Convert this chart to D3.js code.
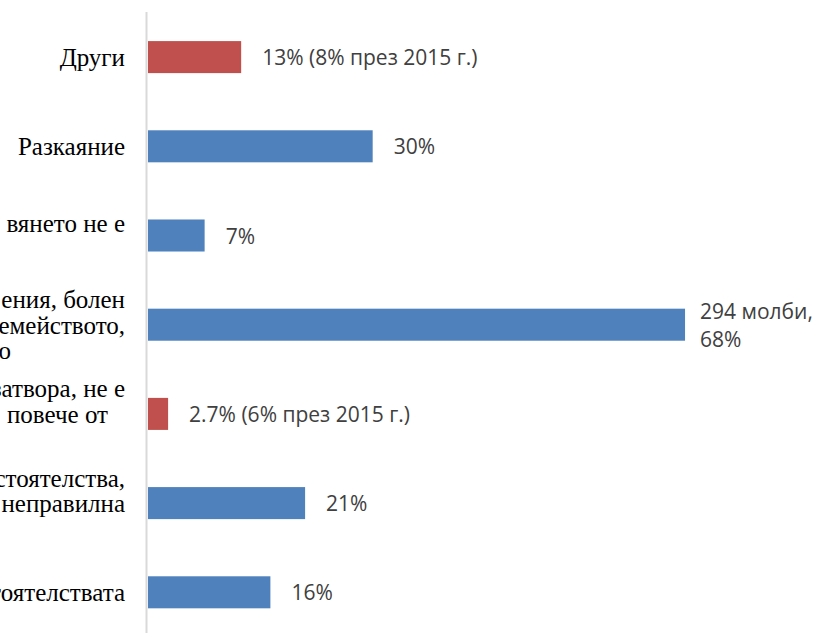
<!DOCTYPE html>
<html>
<head>
<meta charset="utf-8">
<script src="https://cdn.jsdelivr.net/npm/d3@7"></script>
<style>
  html, body { margin: 0; padding: 0; background: #fff; overflow: hidden; }
  .cat-label { font-family: "Liberation Serif", serif; font-size: 25px; fill: #000; }
  .val-label { font-family: "Open Sans", sans-serif; font-size: 21px; fill: #404040; }
</style>
</head>
<body>
<div id="chart"></div>
<script>
// categories (top to bottom), left part of the labels is cut off in the original
let categories = ['c1', 'c2', 'c3', 'c4', 'c5', 'c6', 'c7'];
let categoryLines = [
    ['Други'],
    ['Разкаяние'],
    ['вянето не е', ''],
    ['ения, болен', 'семейството,', 'о'],
    ['затвора, не е', 'повече от', ''],
    ['обстоятелства,', 'неправилна', ''],
    ['обстоятелствата']
];
// bar lengths (number of petitions)
let values = [51, 123, 31, 294, 11, 86, 67];
let highlighted = [true, false, false, false, true, false, false];
let valueLines = [
    ['13% (8% през 2015 г.)'],
    ['30%'],
    ['7%'],
    ['294 молби,', '68%'],
    ['2.7% (6% през 2015 г.)'],
    ['21%'],
    ['16%']
];

const width = 829, height = 633;
const axisX = 148;
const labelRight = 125;
const lineH = 25.5;
// short centred lines end before the right edge of the wrapped block
const lineInset = { 'повече от': 17, 'о': 114 };

let svg = d3.select('#chart').append('svg')
    .attr('width', width)
    .attr('height', height);

let y = d3.scaleBand()
    .domain(categories)
    .range([12.5, 636.9])
    .paddingInner(0.641)
    .paddingOuter(0.3205);

let x = d3.scaleLinear()
    .domain([0, 300])
    .range([axisX, 696]);

// bars
svg.append('g')
    .selectAll('rect')
    .data(categories)
    .enter()
    .append('rect')
    .attr('x', x(0))
    .attr('y', d => y(d))
    .attr('width', (d, i) => x(values[i]) - x(0))
    .attr('height', y.bandwidth())
    .style('fill', (d, i) => highlighted[i] ? '#C0504D' : '#4F81BD');

// vertical axis line
svg.append('line')
    .attr('x1', axisX - 1.5).attr('x2', axisX - 1.5)
    .attr('y1', 12).attr('y2', height)
    .style('stroke', '#d9d9d9')
    .style('stroke-width', 2);

// category labels
let cats = svg.append('g')
    .selectAll('text')
    .data(categories)
    .enter()
    .append('text')
    .classed('cat-label', true)
    .attr('text-anchor', 'end')
    .attr('dominant-baseline', 'central');

cats.each(function (d, i) {
    let lines = categoryLines[i];
    let cy = y(d) + y.bandwidth() / 2;
    let top = cy - (lines.length - 1) * lineH / 2;
    d3.select(this).selectAll('tspan')
        .data(lines)
        .enter()
        .append('tspan')
        .attr('x', l => labelRight - (lineInset[l] || 0))
        .attr('y', (l, j) => top + j * lineH)
        .text(l => l);
});

// value labels
let vals = svg.append('g')
    .selectAll('text')
    .data(categories)
    .enter()
    .append('text')
    .classed('val-label', true)
    .attr('dominant-baseline', 'central');

vals.each(function (d, i) {
    let lines = valueLines[i];
    let cy = y(d) + y.bandwidth() / 2;
    let top = cy - (lines.length - 1) * 28 / 2;
    let gap = lines.length > 1 ? 15 : 21;
    d3.select(this).selectAll('tspan')
        .data(lines)
        .enter()
        .append('tspan')
        .attr('x', x(values[i]) + gap)
        .attr('y', (l, j) => top + j * 28)
        .text(l => l);
});
</script>
</body>
</html>
